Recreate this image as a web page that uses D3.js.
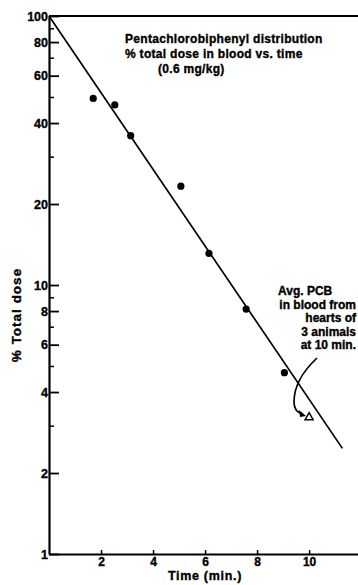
<!DOCTYPE html>
<html>
<head>
<meta charset="utf-8">
<script src="https://d3js.org/d3.v7.min.js"></script>
<style>
  body { margin: 0; background: #fff; }
  svg { display: block; }
  text { font-family: "Liberation Sans", Arial, sans-serif; font-weight: bold; fill: #000; stroke: #000; stroke-width: 0.35px; }
</style>
</head>
<body>
<svg width="358" height="585"></svg>
<script>
// measured points, % of total dose in blood
var times = [1.7, 2.53, 3.14, 5.07, 6.15, 7.58, 9.05];
var doses = [49.4, 46.7, 35.9, 23.3, 13.1, 8.14, 4.72];

// avg. from hearts at 10 min (triangle)
var heartTime = [10.0];
var heartDose = [3.22];

// fitted line ends
var fitTimes = [0, 11.28];
var fitDoses = [100, 2.47];

var majorTicks = [1, 2, 4, 6, 8, 10, 20, 40, 60, 80, 100];
var minorTicks = [3, 5, 7, 9, 30, 50, 70, 90];
var xTicks = [2, 4, 6, 8, 10];

var titleLines = ["Pentachlorobiphenyl distribution", "% total dose in blood vs. time", "(0.6 mg/kg)"];
var noteLines = ["Avg. PCB", "in blood from", "hearts of", "3 animals", "at 10 min."];

var svg = d3.select("svg");

var x = d3.scaleLinear().domain([0, 11.88]).range([49, 358]);
var y = d3.scaleLog().domain([1, 100]).range([554, 16]);

// y axis - major ticks point inward, labels on the left
var yAxis = svg.append("g")
  .attr("transform", "translate(" + x(0) + ",0)")
  .call(d3.axisLeft(y).tickValues(majorTicks).tickFormat(d3.format("d"))
    .tickSizeInner(-10).tickSizeOuter(0).tickPadding(2));
yAxis.select(".domain").attr("stroke-width", 2.2);
yAxis.selectAll(".tick line").attr("stroke-width", 1.8);
yAxis.selectAll("text").style("font-size", "12.5px").attr("dx", "1");

// minor ticks
var yMinor = svg.append("g")
  .attr("transform", "translate(" + x(0) + ",0)")
  .call(d3.axisLeft(y).tickValues(minorTicks).tickFormat("").tickSizeInner(-5).tickSizeOuter(0));
yMinor.select(".domain").remove();
yMinor.selectAll(".tick line").attr("stroke-width", 1.5);

// x axis
var xAxis = svg.append("g")
  .attr("transform", "translate(0," + y(1) + ")")
  .call(d3.axisBottom(x).tickValues(xTicks).tickSizeInner(-4).tickSizeOuter(0).tickPadding(3));
xAxis.select(".domain").attr("stroke-width", 2.2);
xAxis.selectAll(".tick line").attr("stroke-width", 1.5);
xAxis.selectAll("text").style("font-size", "12px");

// top border line
svg.append("line")
  .attr("x1", x(0)).attr("x2", x(11.88))
  .attr("y1", y(100)).attr("y2", y(100))
  .attr("stroke", "#000").attr("stroke-width", 2.2);

// axis titles
svg.append("text")
  .attr("transform", "translate(21,315) rotate(-90)")
  .attr("text-anchor", "middle")
  .style("font-size", "13.5px")
  .style("letter-spacing", "1px")
  .text("% Total dose");

svg.append("text")
  .attr("x", 205).attr("y", 580)
  .attr("text-anchor", "middle")
  .style("font-size", "12.5px")
  .style("letter-spacing", "0.7px")
  .text("Time (min.)");

// regression line
svg.append("line")
  .attr("x1", x(fitTimes[0])).attr("y1", y(fitDoses[0]))
  .attr("x2", x(fitTimes[1])).attr("y2", y(fitDoses[1]))
  .attr("stroke", "#000").attr("stroke-width", 1.7);

// data points
svg.selectAll("circle.pt")
  .data(times)
  .enter().append("circle")
  .attr("class", "pt")
  .attr("cx", function(d) { return x(d); })
  .attr("cy", function(d, i) { return y(doses[i]); })
  .attr("r", 3.6)
  .attr("fill", "#000");

// heart value triangle
svg.selectAll("path.tri")
  .data(heartTime)
  .enter().append("path")
  .attr("class", "tri")
  .attr("transform", function(d, i) { return "translate(" + x(d) + "," + y(heartDose[i]) + ")"; })
  .attr("d", d3.symbol().type(d3.symbolTriangle).size(28))
  .attr("fill", "#fff")
  .attr("stroke", "#000")
  .attr("stroke-width", 1.5);

// title
svg.append("g").selectAll("text")
  .data(titleLines)
  .enter().append("text")
  .attr("x", function(d, i) { return i == 2 ? 158 : 125; })
  .attr("y", function(d, i) { return 43 + i * 15; })
  .style("font-size", "12px")
  .style("letter-spacing", "0.3px")
  .text(function(d) { return d; });

// annotation
svg.append("g").selectAll("text")
  .data(noteLines)
  .enter().append("text")
  .attr("x", function(d, i) { return i == 0 ? 278 : 356; })
  .attr("y", function(d, i) { return 295 + i * 13.5; })
  .attr("text-anchor", function(d, i) { return i == 0 ? "start" : "end"; })
  .style("font-size", "12px")
  .text(function(d) { return d; });

// curved arrow from note to triangle
svg.append("path")
  .attr("d", "M317,358 C302,372 294,388 294,402 C294,410 298,413 303,414")
  .attr("fill", "none")
  .attr("stroke", "#000")
  .attr("stroke-width", 1.7);
svg.append("path")
  .attr("d", "M306,416 L299,410 L300,417 Z")
  .attr("fill", "#000");
</script>
</body>
</html>
